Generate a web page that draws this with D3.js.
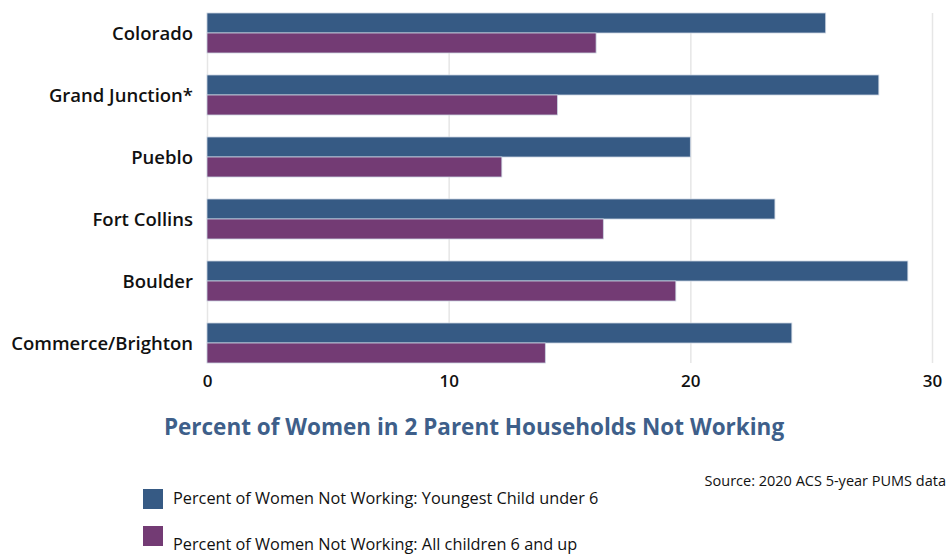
<!DOCTYPE html>
<html>
<head>
<meta charset="utf-8">
<script src="https://cdn.jsdelivr.net/npm/d3@7"></script>
<style>
  body { margin: 0; background: #fff; }
  svg text { font-family: "Open Sans", "DejaVu Sans", sans-serif; }
</style>
</head>
<body>
<div id="chart"></div>
<script>
// data
var cities = ["Colorado", "Grand Junction*", "Pueblo", "Fort Collins", "Boulder", "Commerce/Brighton"];
var youngUnder6 = [25.6, 27.8, 20.0, 23.5, 29.0, 24.2];
var allOver6 = [16.1, 14.5, 12.2, 16.4, 19.4, 14.0];
var seriesNames = ["Percent of Women Not Working: Youngest Child under 6",
                   "Percent of Women Not Working: All children 6 and up"];
var seriesColors = ["#365a84", "#733b74"];
var xTicks = [0, 10, 20, 30];

var width = 948, height = 554;
var plotLeft = 207, plotRight = 932, plotTop = 13, plotBottom = 363;

var svg = d3.select("#chart").append("svg")
  .attr("width", width)
  .attr("height", height);

var x = d3.scaleLinear().domain([0, 30]).range([plotLeft, plotRight]);
var y = d3.scaleBand().domain(cities).range([plotTop, plotBottom]).paddingInner(0.355).paddingOuter(0);
var sub = d3.scaleBand().domain([0, 1]).range([0, y.bandwidth()]);

// grid
svg.append("g").selectAll("line")
  .data(xTicks)
  .join("line")
  .attr("x1", d => x(d) + 0.5).attr("x2", d => x(d) + 0.5)
  .attr("y1", plotTop).attr("y2", plotBottom)
  .style("stroke", "#e6e6e6")
  .style("stroke-width", 1.5);

// bars
var rows = cities.map(function(c, i){ return {city: c, vals: [youngUnder6[i], allOver6[i]]}; });
var groups = svg.append("g").selectAll("g")
  .data(rows)
  .join("g")
  .attr("transform", d => "translate(0," + y(d.city) + ")");

groups.selectAll("rect")
  .data(d => d.vals)
  .join("rect")
  .attr("x", x(0))
  .attr("y", (d, i) => sub(i))
  .attr("width", d => x(d) - x(0))
  .attr("height", sub.bandwidth())
  .attr("fill", (d, i) => seriesColors[i])
  .style("stroke", "#c9d3e0")
  .style("stroke-width", 0.8);

// category labels
svg.append("g").selectAll("text")
  .data(cities)
  .join("text")
  .attr("x", 193)
  .attr("y", d => y(d) + y.bandwidth() / 2 + 1)
  .attr("dy", "0.35em")
  .attr("text-anchor", "end")
  .style("font-size", "18.5px")
  .style("font-weight", 600)
  .style("fill", "#111")
  .text(d => d);

// x axis
var xAxis = svg.append("g")
  .attr("transform", "translate(0," + plotBottom + ")")
  .call(d3.axisBottom(x).tickValues(xTicks).tickSize(0).tickPadding(12));
xAxis.select(".domain").remove();
xAxis.selectAll("text")
  .style("font-size", "17px")
  .style("font-weight", 600)
  .style("fill", "#111");

// title
svg.append("text")
  .attr("x", 474)
  .attr("y", 435)
  .attr("text-anchor", "middle")
  .style("font-size", "22.5px")
  .style("font-weight", 700)
  .style("fill", "#3e5f8a")
  .text("Percent of Women in 2 Parent Households Not Working");

// source
svg.append("text")
  .attr("x", 946)
  .attr("y", 486)
  .attr("text-anchor", "end")
  .style("font-size", "14.5px")
  .style("fill", "#111")
  .text("Source: 2020 ACS 5-year PUMS data");

// legend
var legendY = [489, 526];
var legend = svg.append("g").selectAll("g")
  .data(seriesNames)
  .join("g");
legend.append("rect")
  .attr("x", 143)
  .attr("y", (d, i) => legendY[i])
  .attr("width", 20)
  .attr("height", 20)
  .attr("fill", (d, i) => seriesColors[i]);
legend.append("text")
  .attr("x", 173)
  .attr("y", (d, i) => i == 0 ? 504 : 550)
  .style("font-size", "16.3px")
  .style("fill", "#111")
  .text(d => d);
</script>
</body>
</html>
